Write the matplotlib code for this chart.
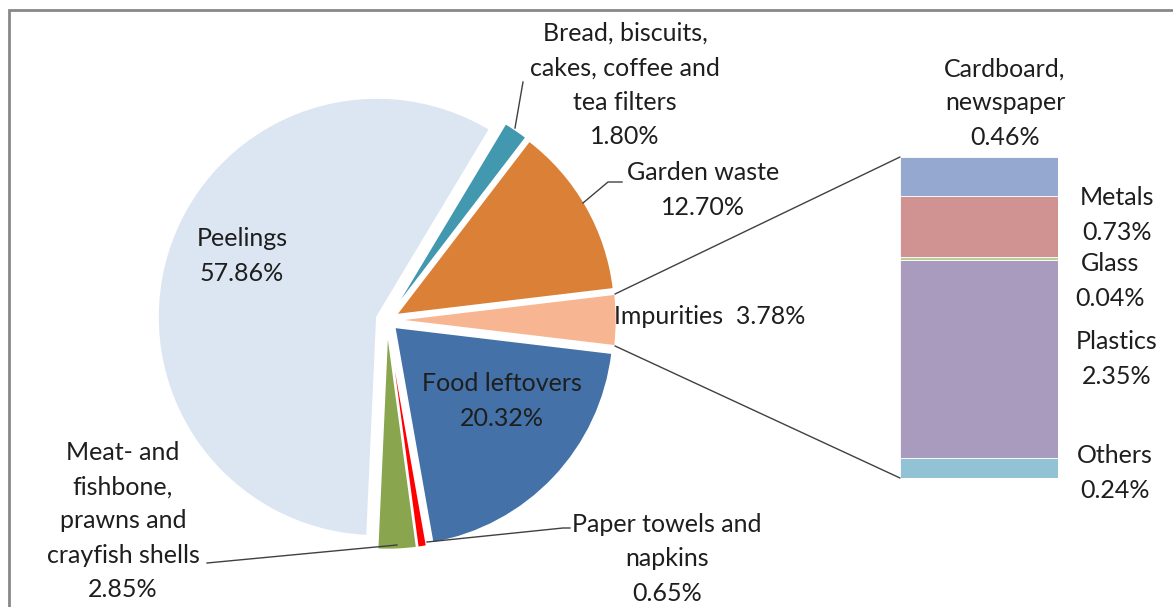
import matplotlib.pyplot as plt
from matplotlib.patches import ConnectionPatch, Rectangle
import numpy as np

W, H = 1173, 607

# pie slices, clockwise starting from Impurities
pie_labels = ["Impurities", "Food leftovers", "Paper towels and napkins",
              "Meat- and fishbone, prawns and crayfish shells", "Peelings",
              "Bread, biscuits, cakes, coffee and tea filters", "Garden waste"]
pie_values = [3.78, 20.32, 0.65, 2.85, 57.86, 1.80, 12.70]
pie_colors = ["#F8B592", "#4472A8", "#FF0000", "#89A54E", "#DCE6F2", "#4198AF", "#DA8137"]

# impurities breakdown, bottom to top
bar_labels = ["Others", "Plastics", "Glass", "Metals", "Cardboard, newspaper"]
bar_values = [0.24, 2.35, 0.04, 0.73, 0.46]
bar_colors = ["#92C3D4", "#A99BBD", "#B9CD96", "#D09391", "#95A9D0"]

plt.rcParams['font.family'] = ['Lato', 'DejaVu Sans']
txt = dict(fontsize=18, color="#1e1e1e", ha="center", va="center", linespacing=1.6)

fig = plt.figure(figsize=(W / 100, H / 100), dpi=100)
ax = fig.add_axes([0, 0, 1, 1])

cx, cy, r = 387, H - 320, 219
gap = 10.5  # explode offset in pixels (pie explode is in data units)
start = pie_values[0] / sum(pie_values) * 360 / 2
wedges, _ = ax.pie(pie_values, explode=[gap] * len(pie_values), colors=pie_colors,
                   startangle=start, counterclock=False, center=(cx, cy), radius=r,
                   wedgeprops=dict(edgecolor="white", linewidth=1.2))
ax.set_xlim(0, W)
ax.set_ylim(0, H)
ax.set_aspect("equal")
ax.axis("off")

# bar of the impurities
bx = fig.add_axes([900 / W, 1 - 478 / H, 158 / W, 321 / H])
bottom = 0
for v, c in zip(bar_values, bar_colors):
    bx.bar(0, v, bottom=bottom, width=1, color=c, edgecolor="white", linewidth=0.6)
    bottom += v
bx.set_xlim(-0.5, 0.5)
bx.set_ylim(0, sum(bar_values))
bx.axis("off")

# connection lines from impurities wedge to the bar
w = wedges[0]
wc = np.array(w.center)
for ang, yb in [(w.theta2, sum(bar_values)), (w.theta1, 0)]:
    p = wc + w.r * np.array([np.cos(np.radians(ang)), np.sin(np.radians(ang))])
    con = ConnectionPatch(xyA=tuple(p), coordsA=ax.transData, xyB=(-0.5, yb),
                          coordsB=bx.transData, color="#404040", linewidth=1)
    fig.add_artist(con)

# labels
ax.text(242, H - 256, "Peelings\n57.86%", **txt)
ax.text(625, H - 85, "Bread, biscuits,\ncakes, coffee and\ntea filters\n1.80%", **txt)
ax.text(703, H - 190, "Garden waste\n12.70%", **txt)
ax.text(710, H - 316, "Impurities  3.78%", **txt)
ax.text(502, H - 401, "Food leftovers\n20.32%", **txt)
ax.text(667, H - 559, "Paper towels and\nnapkins\n0.65%", **txt)
ax.text(123, H - 521, "Meat- and\nfishbone,\nprawns and\ncrayfish shells\n2.85%", **txt)
ax.text(1005, H - 103, "Cardboard,\nnewspaper\n0.46%", **txt)
ax.text(1117, H - 215, "Metals\n0.73%", **txt)
ax.text(1110, H - 281, "Glass\n0.04%", **txt)
ax.text(1117, H - 359, "Plastics\n2.35%", **txt)
ax.text(1115, H - 473, "Others\n0.24%", **txt)

# leader lines
lc = dict(color="#404040", linewidth=1)
ax.plot([515, 523], [H - 128, H - 82], **lc)
ax.plot([583, 608, 622], [H - 203, H - 182, H - 182], **lc)
ax.plot([207, 397], [H - 563, H - 545], **lc)
ax.plot([427, 563, 570], [H - 542, H - 528, H - 528], **lc)

# chart border (cropped at right and bottom)
fig.add_artist(Rectangle((9 / W, -0.1), 1.2, 1.1 - 10 / H, transform=fig.transFigure,
                         fill=False, edgecolor="#878787", linewidth=2))

fig.savefig("out.png", dpi=100)
